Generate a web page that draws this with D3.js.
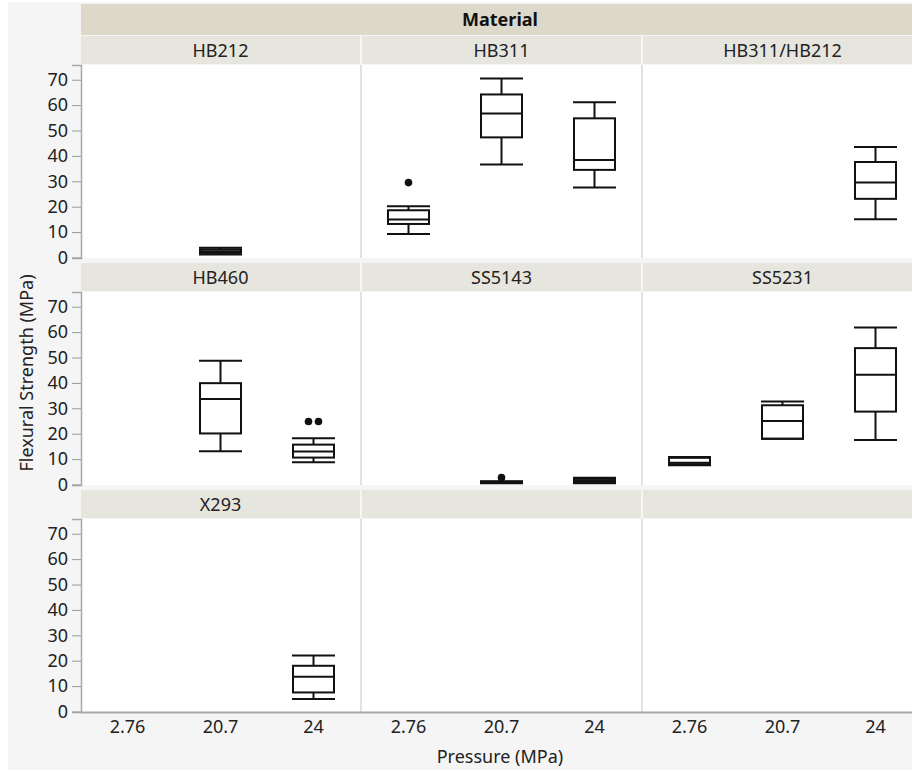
<!DOCTYPE html>
<html>
<head>
<meta charset="utf-8">
<script src="https://cdn.jsdelivr.net/npm/d3@7"></script>
<style>
  html, body { margin: 0; padding: 0; background: #ffffff; }
  svg { display: block; font-family: "Noto Sans", "Open Sans", sans-serif; }
</style>
</head>
<body>
<svg id="chart" width="912" height="771"></svg>
<script>
// facet levels and axis labels
const materials = ["HB212", "HB311", "HB311/HB212", "HB460", "SS5143", "SS5231", "X293"];
const pressures = ["2.76", "20.7", "24"];
const yTicks = [0, 10, 20, 30, 40, 50, 60, 70];

// box summaries (MPa), one entry per box
const boxMaterial = ["HB212", "HB311", "HB311", "HB311", "HB311/HB212", "HB460", "HB460", "SS5143", "SS5143", "SS5231", "SS5231", "SS5231", "X293"];
const boxPressure = ["20.7", "2.76", "20.7", "24", "24", "20.7", "24", "20.7", "24", "2.76", "20.7", "24", "24"];
const boxMin    = [1.2,  9.3, 36.6, 27.6, 15.1, 13.1,  8.8, 0.5, 0.5,  7.6, 18.0, 17.5,  4.9];
const boxQ1     = [1.8, 13.2, 47.3, 34.5, 23.1, 20.1, 10.6, 0.7, 1.0,  8.0, 18.0, 28.7,  7.5];
const boxMedian = [2.5, 15.0, 56.7, 38.4, 29.5, 33.7, 13.0, 0.9, 1.6,  8.6, 25.0, 43.2, 13.7];
const boxQ3     = [3.2, 18.6, 64.2, 54.8, 37.6, 39.9, 15.7, 1.1, 2.2, 10.5, 31.2, 53.7, 18.0];
const boxMax    = [3.8, 20.2, 70.5, 61.1, 43.5, 48.7, 18.2, 1.3, 2.7, 10.8, 32.7, 61.8, 22.0];

// outlier points
const outMaterial = ["HB311", "HB460", "HB460", "SS5143"];
const outPressure = ["2.76", "24", "24", "20.7"];
const outValue    = [29.5, 24.8, 24.8, 2.7];

const svg = d3.select("#chart");
const left = 81, colW = 279, colGap = 2;
const rowTop0 = 36, rowStep = 227, headH = 28, plotH = 193;
const boxW = 43;
const fs = 18;

// page background
svg.append("rect").attr("x", 8).attr("y", 2).attr("width", 904).attr("height", 768).attr("fill", "#f5f5f5");

// group header
svg.append("rect").attr("x", left).attr("y", 4).attr("width", 912 - left).attr("height", 31).attr("fill", "#dcd9cb");
svg.append("text").attr("x", 500).attr("y", 19).attr("text-anchor", "middle").attr("dominant-baseline", "central")
  .attr("font-weight", "bold").attr("font-size", fs).attr("fill", "#111").text("Material");

const colX = c => left + c * (colW + colGap);
const rowY = r => rowTop0 + r * rowStep;

const yScales = [0, 1, 2].map(r => d3.scaleLinear()
  .domain([-0.2, 75.8])
  .range([rowY(r) + headH + 1 + plotH, rowY(r) + headH + 1]));

const xScales = [0, 1, 2].map(c => d3.scaleBand()
  .domain(pressures)
  .range([colX(c), colX(c) + colW]));

for (let r = 0; r < 3; r++) {
  for (let c = 0; c < 3; c++) {
    const i = r * 3 + c;
    const top = rowY(r);
    svg.append("rect").attr("x", colX(c)).attr("y", top).attr("width", colW).attr("height", headH).attr("fill", "#e7e6de");
    svg.append("rect").attr("x", colX(c)).attr("y", top + headH + 1).attr("width", colW).attr("height", plotH).attr("fill", "#ffffff");
    if (i < materials.length) {
      svg.append("text").attr("x", colX(c) + colW / 2).attr("y", top + headH / 2)
        .attr("text-anchor", "middle").attr("dominant-baseline", "central")
        .attr("font-size", fs).attr("fill", "#222").text(materials[i]);
    }
  }
  // column separators in plot area
  for (let c = 1; c < 3; c++) {
    svg.append("rect").attr("x", colX(c) - colGap).attr("y", rowY(r) + headH + 1).attr("width", colGap).attr("height", plotH)
      .attr("fill", "#e2e2e2");
  }
  // y axis
  const ax = svg.append("g").attr("transform", `translate(${left},0)`)
    .call(d3.axisLeft(yScales[r]).tickValues(yTicks).tickSize(9).tickPadding(4));
  ax.select(".domain").attr("stroke", "#a8a8a8").attr("stroke-width", 1.5);
  ax.selectAll(".tick line").attr("stroke", "#999");
  ax.selectAll(".tick text").attr("font-size", fs).attr("fill", "#222").attr("font-family", "Noto Sans, sans-serif");
}

// bottom axis line and labels
const bottomY = rowY(2) + headH + 1 + plotH;
svg.append("line").attr("x1", left).attr("x2", 912).attr("y1", bottomY + 0.5).attr("y2", bottomY + 0.5)
  .attr("stroke", "#a8a8a8").attr("stroke-width", 2);
for (let c = 0; c < 3; c++) {
  const ax = svg.append("g").attr("transform", `translate(0,${bottomY + 1})`)
    .call(d3.axisBottom(xScales[c]).tickSize(0).tickPadding(7));
  ax.select(".domain").remove();
  ax.selectAll(".tick text").attr("font-size", fs).attr("fill", "#222").attr("font-family", "Noto Sans, sans-serif");
}

// axis titles
svg.append("text").attr("x", 500).attr("y", 756).attr("text-anchor", "middle").attr("dominant-baseline", "central")
  .attr("font-size", fs).attr("fill", "#222").text("Pressure (MPa)");
svg.append("text").attr("transform", "translate(26,373) rotate(-90)").attr("text-anchor", "middle").attr("dominant-baseline", "central")
  .attr("font-size", fs).attr("fill", "#222").text("Flexural Strength (MPa)");

// boxes
const marks = svg.append("g").attr("stroke", "#111").attr("stroke-width", 2).attr("fill", "none");
boxMaterial.forEach((m, i) => {
  const idx = materials.indexOf(m);
  const r = Math.floor(idx / 3), c = idx % 3;
  const y = yScales[r], x = xScales[c];
  const cx = x(boxPressure[i]) + x.bandwidth() / 2;
  const g = marks.append("g");
  // whiskers
  g.append("line").attr("x1", cx).attr("x2", cx).attr("y1", y(boxMax[i])).attr("y2", y(boxQ3[i]));
  g.append("line").attr("x1", cx).attr("x2", cx).attr("y1", y(boxQ1[i])).attr("y2", y(boxMin[i]));
  g.append("line").attr("x1", cx - boxW / 2).attr("x2", cx + boxW / 2).attr("y1", y(boxMax[i])).attr("y2", y(boxMax[i]));
  g.append("line").attr("x1", cx - boxW / 2).attr("x2", cx + boxW / 2).attr("y1", y(boxMin[i])).attr("y2", y(boxMin[i]));
  // box and median
  g.append("rect").attr("x", cx - boxW / 2 + 1).attr("width", boxW - 2)
    .attr("y", y(boxQ3[i])).attr("height", Math.max(0.5, y(boxQ1[i]) - y(boxQ3[i])));
  g.append("line").attr("x1", cx - boxW / 2 + 1).attr("x2", cx + boxW / 2 - 1).attr("y1", y(boxMedian[i])).attr("y2", y(boxMedian[i]));
});

// outliers: duplicates sit side by side
const seen = {};
const counts = {};
outValue.forEach((v, i) => { const k = outMaterial[i] + "|" + outPressure[i] + "|" + v; counts[k] = (counts[k] || 0) + 1; });
outValue.forEach((v, i) => {
  const k = outMaterial[i] + "|" + outPressure[i] + "|" + v;
  const n = counts[k];
  const j = seen[k] = (seen[k] === undefined ? 0 : seen[k] + 1);
  const idx = materials.indexOf(outMaterial[i]);
  const r = Math.floor(idx / 3), c = idx % 3;
  const x = xScales[c];
  const cx = x(outPressure[i]) + x.bandwidth() / 2 + (j - (n - 1) / 2) * 10;
  svg.append("circle").attr("cx", cx).attr("cy", yScales[r](v)).attr("r", 3.8).attr("fill", "#111");
});
</script>
</body>
</html>
